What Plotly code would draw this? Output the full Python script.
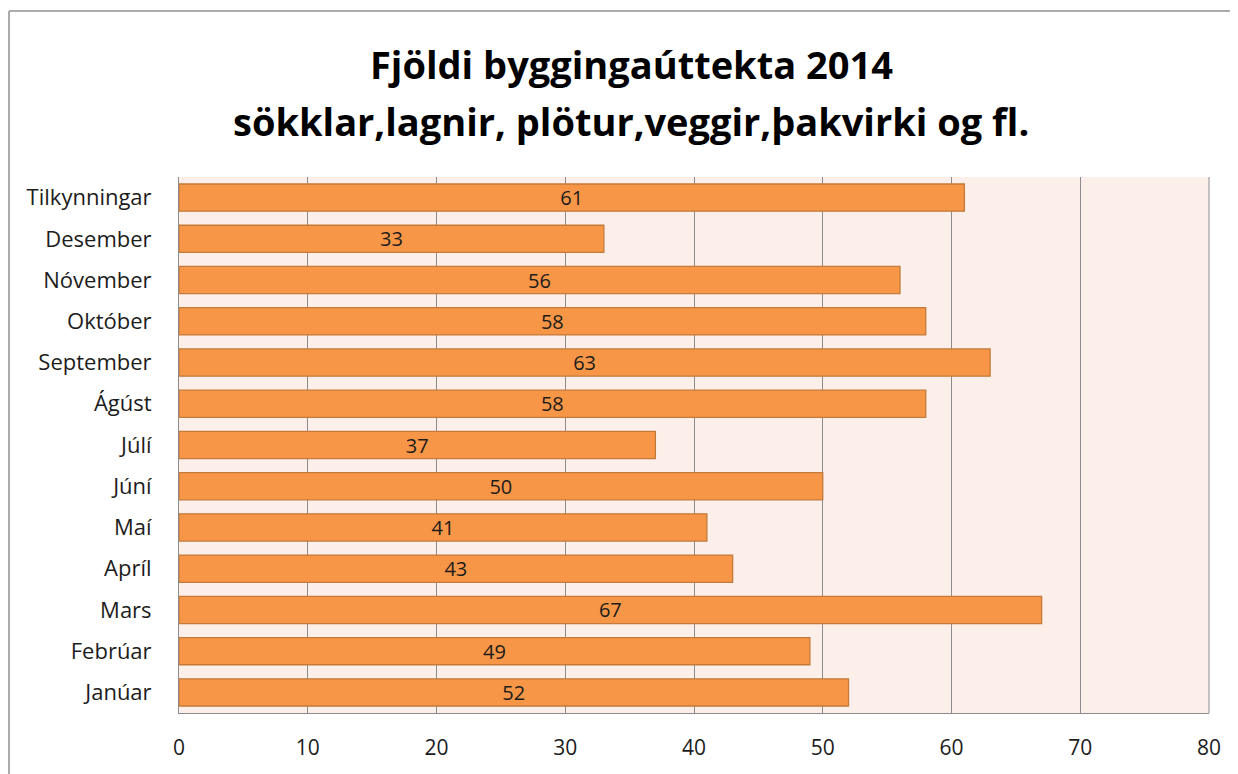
import plotly.graph_objects as go

categories = ["Janúar", "Febrúar", "Mars", "Apríl", "Maí", "Júní", "Júlí",
              "Ágúst", "September", "Október", "Nóvember", "Desember", "Tilkynningar"]
values = [52, 49, 67, 43, 41, 50, 37, 58, 63, 58, 56, 33, 61]
x_ticks = [0, 10, 20, 30, 40, 50, 60, 70, 80]
title_lines = ["Fjöldi byggingaúttekta 2014", "sökklar,lagnir, plötur,veggir,þakvirki og fl."]

OFF = 8  # page body margin
W, H = 1238, 774
L, R, T, B = 179 - OFF, 1209 - OFF, 177 - OFF, 713 - OFF

def px(X):
    return (X - OFF - L) / (R - L)

def py(Y):
    return (B - (Y - OFF)) / (B - T)

FONT = "Open Sans"
TXT = "#1c1c1c"

fig = go.Figure(go.Bar(
    x=values, y=categories, orientation="h",
    marker=dict(color="#F79646", line=dict(color="#C47A3A", width=1.3)),
    width=0.66,
    text=[str(v) for v in values], textposition="inside", insidetextanchor="middle",
    textangle=0, constraintext="none",
    textfont=dict(family=FONT, size=20, color=TXT),
    cliponaxis=False,
))

fig.update_layout(
    width=W, height=H,
    margin=dict(l=L, r=W - R, t=T, b=H - B),
    paper_bgcolor="white", plot_bgcolor="#FCEEE9",
    showlegend=False,
    xaxis=dict(range=[0, 80], tickvals=x_ticks, ticktext=[str(t) for t in x_ticks],
               showgrid=True, gridcolor="#8c8c8c", gridwidth=1,
               zeroline=False, showline=True, linecolor="#8c8c8c", linewidth=1,
               ticks="", ticklabelstandoff=16,
               tickfont=dict(family=FONT, size=21, color=TXT),
               fixedrange=True),
    yaxis=dict(showgrid=False, zeroline=False, showline=True, linecolor="#8c8c8c",
               linewidth=1, ticks="", tickfont=dict(family=FONT, size=22, color=TXT),
               ticklabelstandoff=22, fixedrange=True),
    annotations=[
        dict(text="<b>" + title_lines[0] + "</b>", x=px(631), y=py(64), xref="paper", yref="paper",
             showarrow=False, xanchor="center", yanchor="middle",
             font=dict(family=FONT, size=38, color="#000000")),
        dict(text="<b>" + title_lines[1] + "</b>", x=px(631), y=py(121), xref="paper", yref="paper",
             showarrow=False, xanchor="center", yanchor="middle",
             font=dict(family=FONT, size=38, color="#000000")),
    ],
    shapes=[
        dict(type="line", xref="paper", yref="paper", x0=px(9), x1=px(9), y0=py(11), y1=py(800),
             line=dict(color="#ababab", width=2)),
        dict(type="line", xref="paper", yref="paper", x0=px(9), x1=px(1260), y0=py(11), y1=py(11),
             line=dict(color="#ababab", width=2)),
        dict(type="line", xref="paper", yref="paper", x0=1, x1=1, y0=0, y1=1,
             line=dict(color="#8c8c8c", width=1)),
    ],
)

fig.write_html("out.html")
